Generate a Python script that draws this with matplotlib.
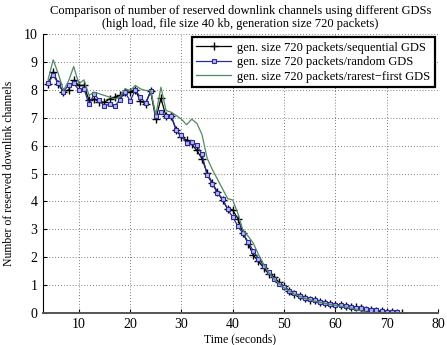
import matplotlib
matplotlib.use("Agg")
import matplotlib.pyplot as plt

plt.rcParams["font.family"] = ["Liberation Serif", "DejaVu Serif"]

time_seq = list(range(4, 74))
seq_gds = [8.22, 8.64, 8.22, 7.92, 8.00, 8.34, 8.16, 8.16, 7.62, 7.68,
           7.56, 7.56, 7.68, 7.74, 7.80, 7.92, 7.92, 8.00, 7.60, 7.50,
           7.95, 6.95, 7.70, 7.05, 7.05, 6.55, 6.30, 6.20, 6.05, 5.83,
           5.53, 5.02, 4.66, 4.34, 4.04, 3.74, 3.68, 3.38, 2.85, 2.49,
           2.07, 1.85, 1.62, 1.40, 1.30, 1.10, 0.95, 0.80, 0.68, 0.60,
           0.55, 0.47, 0.45, 0.38, 0.37, 0.32, 0.30, 0.28, 0.25, 0.22,
           0.20, 0.18, 0.12, 0.10, 0.08, 0.06, 0.04, 0.02, 0.01, 0.00]

time_rand = list(range(4, 73))
rand_gds = [8.24, 8.52, 8.24, 7.92, 8.19, 8.24, 8.00, 8.04, 7.48, 7.86,
            7.62, 7.41, 7.50, 7.41, 7.65, 7.92, 7.60, 8.00, 7.74, 7.53,
            7.95, 7.05, 7.20, 7.05, 7.08, 6.55, 6.37, 6.09, 6.13, 6.01,
            5.69, 4.94, 4.64, 4.30, 4.10, 3.71, 3.44, 3.11, 2.85, 2.54,
            2.22, 1.95, 1.70, 1.45, 1.20, 1.05, 0.92, 0.80, 0.70, 0.62,
            0.55, 0.50, 0.45, 0.40, 0.36, 0.33, 0.30, 0.27, 0.24, 0.22,
            0.19, 0.17, 0.14, 0.11, 0.09, 0.07, 0.05, 0.03, 0.02]

time_rare = list(range(4, 67))
rare_gds = [8.36, 9.08, 8.58, 7.98, 8.32, 8.84, 8.22, 8.36, 7.80, 7.92,
            7.86, 7.80, 7.74, 7.68, 7.74, 8.04, 7.98, 8.16, 8.04, 7.98,
            7.98, 7.10, 8.10, 7.26, 7.20, 7.08, 6.95, 6.75, 6.95, 6.80,
            6.40, 5.55, 5.15, 4.80, 4.45, 4.10, 4.05, 3.56, 2.95, 2.75,
            2.50, 2.10, 1.75, 1.45, 1.22, 1.05, 0.90, 0.78, 0.68, 0.60,
            0.52, 0.47, 0.42, 0.38, 0.34, 0.30, 0.27, 0.24, 0.21, 0.17,
            0.12, 0.07, 0.03]

fig = plt.figure(figsize=(4.47, 3.45), dpi=100)
ax = fig.add_axes([0.096, 0.093, 0.884, 0.808])

ax.plot(time_seq, seq_gds, color="black", marker="+", markersize=6,
        linewidth=0.9, label="gen. size 720 packets/sequential GDS")
ax.plot(time_rand, rand_gds, color="#2a2a9c", marker="s", markersize=3.5,
        markerfacecolor="#b8b8e8", markeredgewidth=0.8, linewidth=0.9,
        label="gen. size 720 packets/random GDS")
ax.plot(time_rare, rare_gds, color="#4f8a62", linewidth=0.9,
        label="gen. size 720 packets/rarest\u2212first GDS")

ax.set_xlim(3, 80)
ax.set_ylim(0, 10)
ax.set_xticks(range(10, 81, 10))
ax.set_yticks(range(0, 11))
ax.grid(True, linestyle=(0, (1, 2.5)), color="#555555", linewidth=0.6)
ax.spines["top"].set_visible(False)
ax.spines["right"].set_visible(False)
ax.spines["bottom"].set_linewidth(1.4)
ax.spines["bottom"].set_color("#555555")
ax.tick_params(direction="in", labelsize=10, length=3, pad=4)

ax.set_xlabel("Time (seconds)", fontsize=8.5, labelpad=1)
ax.set_ylabel("Number of reserved downlink channels", fontsize=8.5, labelpad=6)
ax.set_title("Comparison of number of reserved downlink channels using different GDSs\n"
             "(high load, file size 40 kb, generation size 720 packets)",
             fontsize=9, pad=5, linespacing=1.15)

leg = ax.legend(loc="upper right", fontsize=9, fancybox=False, framealpha=1,
                edgecolor="black", borderpad=0.35, labelspacing=0.2,
                handlelength=2.8, handletextpad=0.5, borderaxespad=0.25)
leg.get_frame().set_linewidth(1.6)

fig.savefig("out.png", dpi=100)
